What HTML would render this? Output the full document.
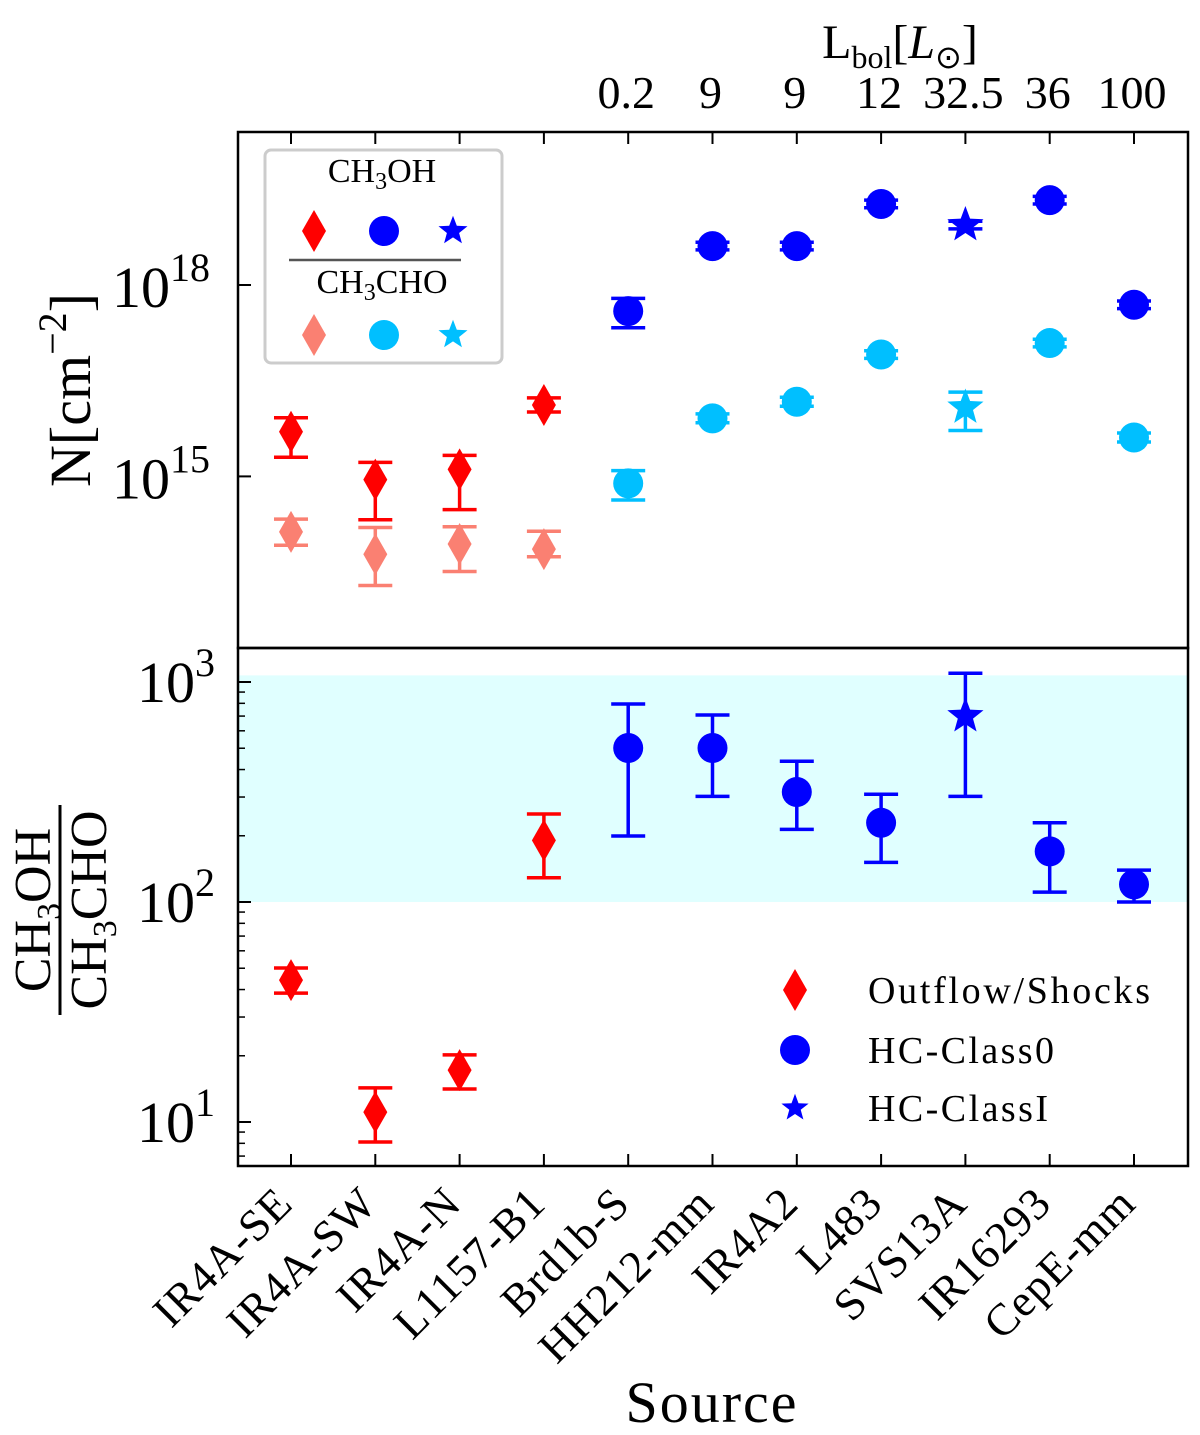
<!DOCTYPE html>
<html><head><meta charset="utf-8"><style>
body{margin:0;background:#fff}
svg{display:block;font-family:"Liberation Serif",serif}
</style></head><body>
<svg id="c" width="1200" height="1435" viewBox="0 0 1200 1435"></svg>
<script>
const sources=["IR4A-SE","IR4A-SW","IR4A-N","L1157-B1","Brd1b-S","HH212-mm","IR4A2","L483","SVS13A","IR16293","CepE-mm"];
const types=["d","d","d","d","o","o","o","o","s","o","o"];
const lbol=["","","","","0.2","9","9","12","32.5","36","100"];
const meohLog=[15.70,14.95,15.11,16.12,17.59,18.61,18.61,19.27,18.94,19.33,17.69];
const meohLo=[15.30,14.32,14.48,16.01,17.33,18.55,18.55,19.21,18.88,19.27,17.63];
const meohHi=[15.92,15.22,15.33,16.23,17.79,18.67,18.67,19.33,19.00,19.39,17.75];
const acLog=[14.13,13.78,13.94,13.86,14.89,15.91,16.17,16.91,16.08,17.09,15.61];
const acLo=[13.92,13.29,13.51,13.74,14.63,15.84,16.10,16.85,15.72,17.03,15.54];
const acHi=[14.33,14.20,14.21,14.14,15.09,15.98,16.24,16.97,16.32,17.15,15.68];
const ratioLog=[1.645,1.045,1.236,2.28,2.70,2.70,2.50,2.36,2.845,2.23,2.08];
const ratioLo=[1.586,0.909,1.15,2.11,2.30,2.48,2.33,2.18,2.48,2.045,2.0];
const ratioHi=[1.70,1.155,1.305,2.40,2.90,2.85,2.64,2.49,3.04,2.36,2.145];
const bandLo=2, bandHi=3.03;

const NS="http://www.w3.org/2000/svg";
const svg=document.getElementById('c');
function el(t,a,p){const e=document.createElementNS(NS,t);for(const k in a)e.setAttribute(k,a[k]);(p||svg).appendChild(e);return e;}
const L=238,R=1188,T1=132,B1=648,T2=648,B2=1166;
const xs=i=>291+i*84.3;
const y1=v=>285+(18-v)*63.8;
const y2=v=>902+(2-v)*220;

const band=el('rect',{x:L,y:y2(bandHi),width:R-L,height:y2(bandLo)-y2(bandHi),fill:'#e0ffff'});



function star(cx,cy,r,fill){let p=[];for(let k=0;k<10;k++){const a=-Math.PI/2+k*Math.PI/5;const rr=k%2?r*0.42:r;p.push((cx+rr*Math.cos(a)).toFixed(1)+','+(cy+rr*Math.sin(a)).toFixed(1));}
return el('polygon',{points:p.join(' '),fill});}
function marker(t,cx,cy,fill,s){
 if(t==='d')return el('polygon',{points:`${cx},${cy-21*s} ${cx+12*s},${cy} ${cx},${cy+21*s} ${cx-12*s},${cy}`,fill});
 if(t==='o')return el('circle',{cx,cy,r:15*s,fill});
 return star(cx,cy,19*s,fill);}
function errbar(x,ya,yb,col,name){const g=el('g',{stroke:col,'stroke-width':3.5});
 
 el('line',{x1:x,x2:x,y1:ya,y2:yb},g);el('line',{x1:x-17,x2:x+17,y1:ya,y2:ya},g);el('line',{x1:x-17,x2:x+17,y1:yb,y2:yb},g);}

sources.forEach((s,i)=>{
 const x=xs(i),t=types[i];
 const c1=t==='d'?'#ff0000':'#0000ff', c2=t==='d'?'#fa8072':'#00bfff';
 errbar(x,y1(acHi[i]),y1(acLo[i]),c2,'ch3cho-error-'+s);
 let m=marker(t,x,y1(acLog[i]),c2,1);
 
 errbar(x,y1(meohHi[i]),y1(meohLo[i]),c1,'ch3oh-error-'+s);
 m=marker(t,x,y1(meohLog[i]),c1,1);
 
 errbar(x,y2(ratioHi[i]),y2(ratioLo[i]),c1,'ratio-error-'+s);
 m=marker(t,x,y2(ratioLog[i]),c1,1);
 
 el('line',{x1:x,x2:x,y1:B2,y2:B2-12,stroke:'#000','stroke-width':2});
 el('line',{x1:x,x2:x,y1:T1,y2:T1+12,stroke:'#000','stroke-width':2});
 const ax=x-16, ay=B2+20;
 const tx=el('text',{x:ax,y:ay+28,'font-size':45,'text-anchor':'end',transform:`rotate(-45 ${ax} ${ay})`,'letter-spacing':1});
 tx.textContent=s;
 if(lbol[i]){const lt=el('text',{x:x-2,y:108,'font-size':46,'text-anchor':'middle'});lt.textContent=lbol[i];
 }
});

const f1=el('rect',{x:L,y:T1,width:R-L,height:B1-T1,fill:'none',stroke:'#000','stroke-width':2.5});

const f2=el('rect',{x:L,y:T2,width:R-L,height:B2-T2,fill:'none',stroke:'#000','stroke-width':2.5});


[15,18].forEach(v=>{el('line',{x1:L,x2:L+13,y1:y1(v),y2:y1(v),stroke:'#000','stroke-width':2});
 const t=el('text',{x:210,y:y1(v)+22,'font-size':58,'text-anchor':'end'});t.innerHTML='10<tspan dy="-26" font-size="40">'+v+'</tspan>';
 });
for(let d=1;d<=3;d++){el('line',{x1:L,x2:L+13,y1:y2(d),y2:y2(d),stroke:'#000','stroke-width':2});
 const t=el('text',{x:215,y:y2(d)+20,'font-size':58,'text-anchor':'end'});t.innerHTML='10<tspan dy="-26" font-size="40">'+d+'</tspan>';
 }
for(let d=0;d<3;d++)for(let m=2;m<=9;m++){const v=d+Math.log10(m);if(v<0.79||v>3.14)continue;
 el('line',{x1:L,x2:L+7,y1:y2(v),y2:y2(v),stroke:'#000','stroke-width':1.5});}

let t=el('text',{x:0,y:0,'font-size':58,'text-anchor':'middle',transform:'translate(90 390) rotate(-90)'});
t.innerHTML='N[cm<tspan dy="-24" font-size="40">−2</tspan><tspan dy="24">]</tspan>';

const g=el('g',{transform:'translate(60 910) rotate(-90)'});

t=el('text',{x:0,y:-10,'font-size':52,'text-anchor':'middle'},g);t.innerHTML='CH<tspan font-size="34" dy="10">3</tspan><tspan dy="-10">OH</tspan>';
el('line',{x1:-105,x2:105,y1:0,y2:0,stroke:'#000','stroke-width':3},g);
t=el('text',{x:0,y:46,'font-size':52,'text-anchor':'middle'},g);t.innerHTML='CH<tspan font-size="34" dy="10">3</tspan><tspan dy="-10">CHO</tspan>';
t=el('text',{x:712,y:1422,'font-size':58,'text-anchor':'middle','letter-spacing':2});t.textContent='Source';

t=el('text',{x:900,y:58,'font-size':48,'text-anchor':'middle'});
t.innerHTML='L<tspan font-size="32" dy="10">bol</tspan><tspan dy="-10">[</tspan><tspan font-style="italic">L</tspan><tspan font-size="32" dy="10">⊙</tspan><tspan dy="-10">]</tspan>';


const lg=el('g',{});
el('rect',{x:265,y:150,width:237,height:213,rx:6,fill:'#fff',stroke:'#ccc','stroke-width':3},lg);
t=el('text',{x:382,y:182,'font-size':34,'text-anchor':'middle'},lg);t.innerHTML='CH<tspan font-size="24" dy="7">3</tspan><tspan dy="-7">OH</tspan>';
t=el('text',{x:382,y:293,'font-size':34,'text-anchor':'middle'},lg);t.innerHTML='CH<tspan font-size="24" dy="7">3</tspan><tspan dy="-7">CHO</tspan>';
el('line',{x1:289,x2:461,y1:260,y2:260,stroke:'#555','stroke-width':2.5},lg);
[['d',314],['o',384],['s',453]].forEach(([ty,x],k)=>{
 lg.appendChild(marker(ty,x,231,k==0?'#f00':'#00f',k==2?0.8:1));
 lg.appendChild(marker(ty,x,335,k==0?'#fa8072':'#00bfff',k==2?0.8:1));});
const lg2=el('g',{});
[['d','Outflow/Shocks',990,282],['o','HC-Class0',1050,186],['s','HC-ClassI',1108,180]].forEach(([ty,lab,y,w])=>{
 lg2.appendChild(marker(ty,795,y,ty==='d'?'#f00':'#00f',ty==='s'?0.75:1));
 const tt=el('text',{x:868,y:y+13,'font-size':38,textLength:w,lengthAdjust:'spacing'},lg2);tt.textContent=lab;});
</script>
</body></html>
